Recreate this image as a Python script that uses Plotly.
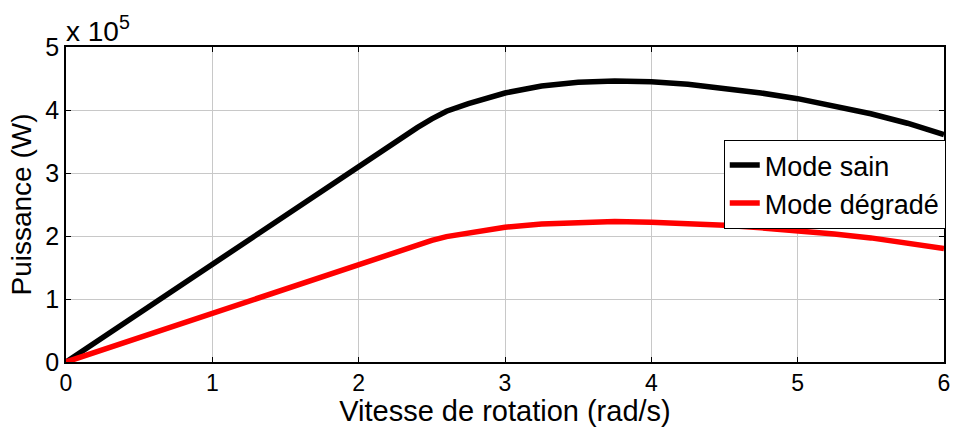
import plotly.graph_objects as go

# vitesse (rad/s) et puissance (W)
vitesse = [0, 0.5, 1, 1.5, 2, 2.25, 2.4, 2.5, 2.6, 2.75, 3, 3.25, 3.5, 3.75, 4,
           4.25, 4.5, 4.75, 5, 5.25, 5.5, 5.75, 6]
p_sain = [0, 0.78e5, 1.56e5, 2.34e5, 3.12e5, 3.5e5, 3.72e5, 3.86e5, 3.98e5, 4.1e5,
          4.27e5, 4.38e5, 4.44e5, 4.46e5, 4.45e5, 4.41e5, 4.35e5, 4.27e5, 4.18e5,
          4.07e5, 3.94e5, 3.79e5, 3.61e5]
p_degrade = [0, 0.39e5, 0.78e5, 1.17e5, 1.56e5, 1.75e5, 1.86e5, 1.93e5, 1.99e5, 2.05e5,
             2.14e5, 2.19e5, 2.22e5, 2.23e5, 2.22e5, 2.2e5, 2.17e5, 2.13e5, 2.09e5,
             2.03e5, 1.97e5, 1.89e5, 1.80e5]

xticks = [0, 1, 2, 3, 4, 5, 6]
yticks = [0, 1e5, 2e5, 3e5, 4e5, 5e5]
yticklabels = ["0", "1", "2", "3", "4", "5"]

FONT = "Liberation Sans, Arial, sans-serif"

fig = go.Figure()
fig.add_trace(go.Scatter(x=vitesse, y=p_sain, mode="lines", name="Mode sain",
                         line=dict(color="black", width=5.5)))
fig.add_trace(go.Scatter(x=vitesse, y=p_degrade, mode="lines", name="Mode dégradé",
                         line=dict(color="#ff0000", width=5.5)))

axis_common = dict(showline=True, linecolor="black", linewidth=1.5, mirror="ticks",
                   ticks="inside", ticklen=5, tickcolor="black",
                   showgrid=True, gridcolor="#c8c8c8", gridwidth=1,
                   zeroline=False, automargin=False)

fig.update_xaxes(range=[0, 6], tickvals=xticks,
                 tickfont=dict(size=23, color="black"),
                 title=dict(text="Vitesse de rotation (rad/s)", font=dict(size=29, color="black"),
                            standoff=0),
                 **axis_common)
fig.update_yaxes(range=[0, 5e5], tickvals=yticks, ticktext=yticklabels,
                 tickfont=dict(size=25, color="black"),
                 title=dict(text="Puissance (W)", font=dict(size=28, color="black"),
                            standoff=6),
                 **axis_common)

fig.add_annotation(text="x 10<sup>5</sup>", xref="paper", yref="paper", x=0, y=1,
                   xanchor="left", yanchor="bottom", showarrow=False,
                   font=dict(size=28, color="black"), xshift=-2, yshift=-2)

fig.update_layout(
    width=955, height=427,
    margin=dict(l=66, r=9, t=47, b=65),
    paper_bgcolor="white", plot_bgcolor="white",
    font=dict(family=FONT, color="black"),
    legend=dict(x=1.002, y=0.705, xanchor="right", yanchor="top",
                bgcolor="white", bordercolor="black", borderwidth=1,
                font=dict(size=27, color="black"), tracegroupgap=0,
                itemwidth=30),
)

# la page a une marge de 8px par defaut : on la retire
fig.write_html("out.html", config={"displayModeBar": False},
               post_script="document.body.style.margin='0';")
